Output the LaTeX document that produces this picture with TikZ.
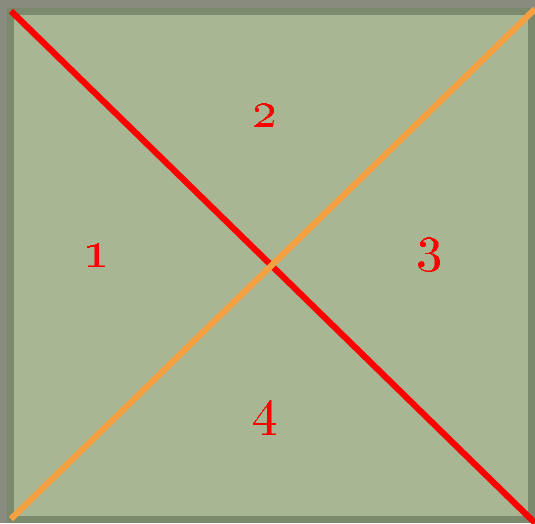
\documentclass[tikz,border=0pt]{standalone}
\definecolor{bgcol}{HTML}{898B7F}
\definecolor{framecol}{HTML}{7B8A6C}
\definecolor{fillcol}{HTML}{A8B693}
\definecolor{orangecol}{HTML}{F5A142}
\tikzstyle{diag}=[line width=6.2pt]
\tikzstyle{num}=[red,scale=5.2,inner sep=0pt,anchor=base,font=\bfseries]

\begin{document}
\begin{tikzpicture}[x=1pt,y=-1pt]
  \useasboundingbox (0,0) rectangle (535,523);
  \clip (0,0) rectangle (535,523);

  % BACKGROUND
  \fill[bgcol] (0,0) rectangle (535,523);
  \draw[framecol,line width=7pt,fill=fillcol] (10.5,11) rectangle (531,519.5);

  % CORNERS
  \coordinate (tl) at (11,11);
  \coordinate (br) at (535,523);
  \coordinate (bl) at (11,519);
  \coordinate (tr) at (535,9);

  % DIAGONALS
  \draw[diag,red] (tl) -- (br);
  \draw[diag,orangecol] (bl) -- (tr);

  % LABELS
  \node[num] (r1) at (96,266) {\oldstylenums{1}};
  \node[num] (r2) at (264,126) {\oldstylenums{2}};
  \node[num] (r3) at (429,260) {\oldstylenums{3}};
  \node[num] (r4) at (265,424) {\oldstylenums{4}};

\end{tikzpicture}
\end{document}
